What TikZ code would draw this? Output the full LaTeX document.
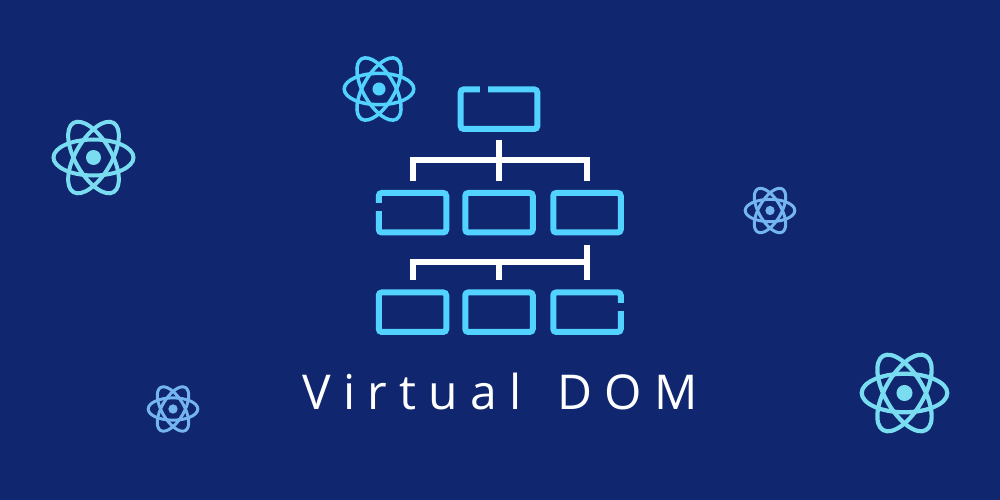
\documentclass[tikz,border=0pt]{standalone}
\usepackage{fontspec}
\setmainfont{Open Sans}
\definecolor{navy}{HTML}{10266F}
\definecolor{boxblue}{HTML}{52D2FF}
\definecolor{pale}{HTML}{7ADCF0}
\definecolor{dim}{HTML}{74B4F0}
\tikzset{
x=1pt,y=-1pt,
treebox/.style={draw=boxblue,line width=6pt,rectangle,rounded corners=3pt,outer sep=0pt,inner sep=0pt,minimum width=67.5pt,minimum height=39.5pt},
wire/.style={draw=white,line width=6pt},
notch/.style={draw=navy,line width=8pt},
pics/atom/.style 2 args={
  code={
    \draw[#1,line width=#2] (0,0) ellipse (40 and 18);
    \draw[#1,line width=#2,rotate=60] (0,0) ellipse (40 and 18);
    \draw[#1,line width=#2,rotate=-60] (0,0) ellipse (40 and 18);
    \fill[#1] (0,0) circle (7.5);
  }
}
}
\begin{document}
\begin{tikzpicture}
\useasboundingbox (0,0) rectangle (1000,500);
\fill[navy] (0,0) rectangle (1000,500);
% atoms
\pic at (93.5,157.5) {atom={pale}{4pt}};
\pic[scale=.87] at (379,89) {atom={boxblue}{3.5pt}};
\pic[scale=.62] at (770,210.5) {atom={dim}{3pt}};
\pic[scale=.62] at (173,409) {atom={dim}{3pt}};
\pic[scale=1.07] at (904.5,393) {atom={pale}{4.2pt}};
% boxes
\node[treebox,minimum width=76.6pt] (root) at (499,109.2) {};
\node[treebox] (kid1) at (412.5,212.7) {};
\node[treebox] (kid2) at (499,212.7) {};
\node[treebox] (kid3) at (587,212.7) {};
\node[treebox] (leaf1) at (412.5,312.2) {};
\node[treebox] (leaf2) at (499,312.2) {};
\node[treebox] (leaf3) at (587,312.2) {};
% breaks in the outlines
\draw[notch] (root.north west) ++(19.3,0) -- ++(8.3,0);
\draw[notch] (kid1.north west) ++(0,10.35) -- ++(0,7.7);
\draw[notch] (leaf3.north east) ++(0,10.25) -- ++(0,8);
% first bus
\coordinate (bus1) at (root.south |- 0,160.3);
\draw[wire,shorten <=11.2pt,shorten >=12.25pt] (root.south) -- (kid2.north);
\draw[wire,shorten >=12.25pt] (bus1 -| kid1.north) -- (kid1.north);
\draw[wire,shorten >=12.25pt] (bus1 -| kid3.north) -- (kid3.north);
\draw[wire,line cap=rect] (bus1 -| kid1.north) -- (bus1 -| kid3.north);
% second bus
\coordinate (bus2) at (leaf2.north |- 0,262);
\draw[wire,shorten >=12.75pt] (bus2 -| leaf1.north) -- (leaf1.north);
\draw[wire,shorten >=12pt] (bus2) -- (leaf2.north);
\draw[wire,shorten <=12.25pt,shorten >=12.75pt] (kid3.south) -- (leaf3.north);
\draw[wire,line cap=rect] (bus2 -| leaf1.north) -- (bus2 -| leaf3.north);
% title
\node[anchor=base west,inner sep=0pt,text=white,font=\addfontfeature{LetterSpace=25.7}\fontsize{48}{52}\selectfont] (title) at (302,409) {Virtual\hspace{11pt} DOM};
\end{tikzpicture}
\end{document}
